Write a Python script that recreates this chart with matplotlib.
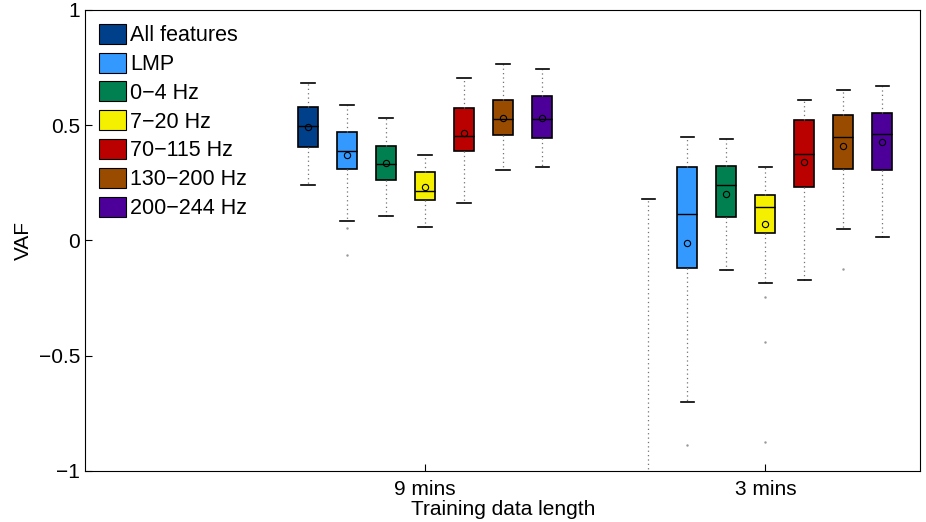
import matplotlib
matplotlib.use("Agg")
import matplotlib.pyplot as plt
from matplotlib.patches import Patch
import numpy as np

plt.rcParams['font.family'] = ['Liberation Sans', 'DejaVu Sans']

features = ["All features", "LMP", "0\u22124 Hz", "7\u221220 Hz",
            "70\u2212115 Hz", "130\u2212200 Hz", "200\u2212244 Hz"]
colors = ["#00408a", "#3399ff", "#008050", "#f5f000",
          "#bb0000", "#994c00", "#4c0099"]
groups = ["9 mins", "3 mins"]

# 9 mins training data
whishi_9 = [0.684, 0.589, 0.529, 0.370, 0.704, 0.764, 0.745]
q3_9     = [0.578, 0.470, 0.410, 0.295, 0.574, 0.609, 0.625]
med_9    = [0.498, 0.389, 0.333, 0.216, 0.454, 0.525, 0.527]
mean_9   = [0.490, 0.369, 0.334, 0.230, 0.466, 0.531, 0.529]
q1_9     = [0.405, 0.309, 0.262, 0.176, 0.388, 0.458, 0.445]
whislo_9 = [0.240, 0.082, 0.107, 0.056, 0.162, 0.307, 0.317]
fliers_9 = [[], [0.052, -0.062], [], [], [], [], []]

# 3 mins training data (All features box lies below the axis)
whishi_3 = [0.178, 0.448, 0.441, 0.320, 0.607, 0.654, 0.668]
q3_3     = [-1.20, 0.320, 0.321, 0.195, 0.521, 0.545, 0.554]
med_3    = [-1.40, 0.116, 0.242, 0.146, 0.374, 0.450, 0.463]
mean_3   = [-1.45, -0.013, 0.201, 0.069, 0.340, 0.408, 0.427]
q1_3     = [-1.60, -0.120, 0.103, 0.032, 0.231, 0.311, 0.305]
whislo_3 = [-2.00, -0.703, -0.127, -0.187, -0.174, 0.051, 0.014]
fliers_3 = [[], [-0.888], [], [-0.246, -0.440, -0.875], [], [-0.123], []]

group_pos = [1, 2]
step = 0.1147
width = 0.059

fig = plt.figure(figsize=(9.26, 5.22), dpi=100)
ax = fig.add_axes([0.092, 0.098, 0.902, 0.883])

data = [(whishi_9, q3_9, med_9, mean_9, q1_9, whislo_9, fliers_9),
        (whishi_3, q3_3, med_3, mean_3, q1_3, whislo_3, fliers_3)]

for g, (hi, q3, med, mn, q1, lo, fl) in enumerate(data):
    for i in range(len(features)):
        st = dict(whishi=hi[i], q3=q3[i], med=med[i], mean=mn[i],
                  q1=q1[i], whislo=lo[i], fliers=fl[i])
        pos = group_pos[g] + (i - 3) * step
        ax.bxp([st], positions=[pos], widths=width, capwidths=0.04,
               patch_artist=True, showmeans=True,
               boxprops=dict(facecolor=colors[i], edgecolor='black', linewidth=1.2),
               medianprops=dict(color='black', linewidth=1),
               whiskerprops=dict(color='0.45', linestyle=(0, (1, 2.5)), linewidth=0.9),
               capprops=dict(color='black', linewidth=1.2),
               meanprops=dict(marker='o', markerfacecolor='none',
                              markeredgecolor='black', markersize=4.5, markeredgewidth=0.8),
               flierprops=dict(marker='.', markersize=1.5, markerfacecolor='0.6',
                               markeredgecolor='0.6'))

ax.set_xlim(0, 2.456)
ax.set_ylim(-1, 1)
ax.set_xticks(group_pos)
ax.set_xticklabels(groups)
ax.set_yticks([-1, -0.5, 0, 0.5, 1])
ax.set_yticklabels(["\u22121", "\u22120.5", "0", "0.5", "1"])
ax.tick_params(direction='in', labelsize=15, length=5)
ax.tick_params(axis='x', pad=6.5)
ax.set_xlabel("Training data length", fontsize=15, labelpad=0.5)
ax.set_ylabel("VAF", fontsize=15)

handles = [Patch(facecolor=c, edgecolor='black', linewidth=0.8) for c in colors]
ax.legend(handles, features, loc='upper left', frameon=False, fontsize=15.5,
          handlelength=1.25, handleheight=1.05, handletextpad=0.2,
          labelspacing=0.3, borderaxespad=0.25, bbox_to_anchor=(0.0, 1.0))

fig.savefig("out.png", dpi=100)
